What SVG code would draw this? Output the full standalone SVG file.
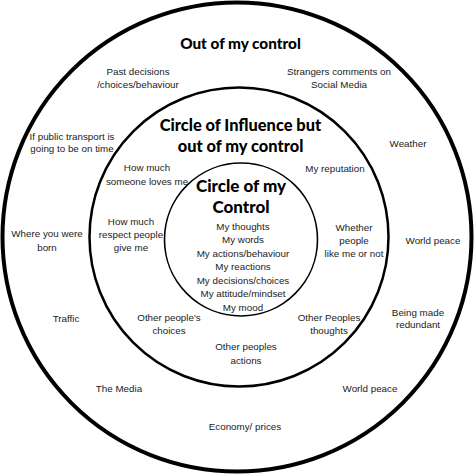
<svg xmlns="http://www.w3.org/2000/svg" width="474" height="474" viewBox="0 0 474 474">
<style>
.c{fill:none;stroke:#000}
.t{font-family:"Liberation Sans",Arial,sans-serif;font-size:9.8px;fill:#222;text-anchor:middle}
.h{font-family:Lato,"Open Sans",sans-serif;font-weight:900;font-size:15.3px;fill:#000;text-anchor:middle}
.h2{font-family:Lato,"Open Sans",sans-serif;font-weight:900;font-size:17px;fill:#000;text-anchor:middle}
.h3{font-family:Lato,"Open Sans",sans-serif;font-weight:900;font-size:16.4px;fill:#000;text-anchor:middle}
</style>
<rect width="474" height="474" fill="#fff"/>
<g id="outer">
<circle class="c" cx="237" cy="237" r="234.5" stroke-width="4"/>
<text class="h" x="240.5" y="49">Out of my control</text>
<text class="t" x="138" y="75">Past decisions</text>
<text class="t" x="138" y="88">/choices/behaviour</text>
<text class="t" x="339" y="75">Strangers comments on</text>
<text class="t" x="339" y="88">Social Media</text>
<text class="t" x="72" y="139.5">If public transport is</text>
<text class="t" x="72" y="152">going to be on time</text>
<text class="t" x="408" y="146.5">Weather</text>
<text class="t" x="47" y="237">Where you were</text>
<text class="t" x="47" y="250.5">born</text>
<text class="t" x="433" y="243.5">World peace</text>
<text class="t" x="66" y="321.5">Traffic</text>
<text class="t" x="418" y="316">Being made</text>
<text class="t" x="418" y="328">redundant</text>
<text class="t" x="119" y="391.5">The Media</text>
<text class="t" x="370" y="391.5">World peace</text>
<text class="t" x="245" y="430">Economy/ prices</text>
</g>
<g id="influence">
<circle class="c" cx="239" cy="237" r="149.5" stroke-width="2.5"/>
<text class="h3" x="240.5" y="131">Circle of Influence but</text>
<text class="h3" x="240.5" y="152">out of my control</text>
<text class="t" x="147" y="170.5">How much</text>
<text class="t" x="147" y="184.5">someone loves me</text>
<text class="t" x="335" y="171.5">My reputation</text>
<text class="t" x="131" y="224.5">How much</text>
<text class="t" x="131" y="238">respect people</text>
<text class="t" x="131" y="251">give me</text>
<text class="t" x="354" y="230.5">Whether</text>
<text class="t" x="354" y="244">people</text>
<text class="t" x="354" y="257">like me or not</text>
<text class="t" x="169" y="320.5">Other people's</text>
<text class="t" x="169" y="334">choices</text>
<text class="t" x="329" y="320.5">Other Peoples</text>
<text class="t" x="329" y="333.5">thoughts</text>
<text class="t" x="246" y="350">Other peoples</text>
<text class="t" x="246" y="363.5">actions</text>
</g>
<g id="control">
<circle class="c" cx="241" cy="239.5" r="76.5" stroke-width="1.6"/>
<text class="h2" x="241" y="192">Circle of my</text>
<text class="h2" x="241" y="213">Control</text>
<text class="t" x="243" y="229.5">My thoughts</text>
<text class="t" x="243" y="243">My words</text>
<text class="t" x="243" y="256.5">My actions/behaviour</text>
<text class="t" x="243" y="270">My reactions</text>
<text class="t" x="243" y="283.5">My decisions/choices</text>
<text class="t" x="243" y="297">My attitude/mindset</text>
<text class="t" x="243" y="310.5">My mood</text>
</g>
</svg>
